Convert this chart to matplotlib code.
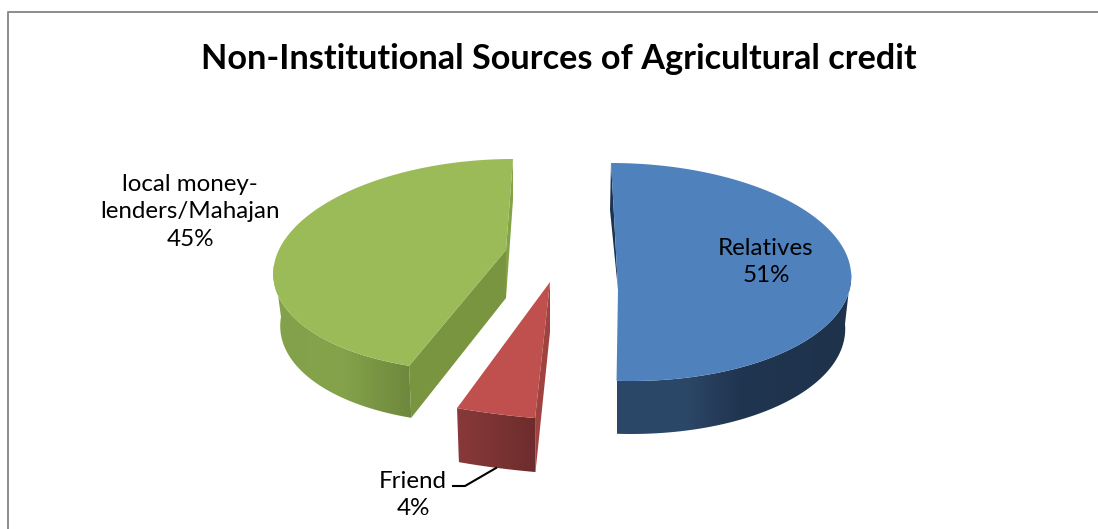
"""3-D style exploded pie of non-institutional agricultural credit sources."""
import matplotlib

matplotlib.use("Agg")
import matplotlib.pyplot as plt
from matplotlib.colors import to_rgb
from matplotlib.patches import Polygon
import numpy as np

TITLE = "Non-Institutional Sources of Agricultural credit"
categories = ["Relatives", "Friend", "local money-\nlenders/Mahajan"]
shares = [51, 4, 45]

plt.rcParams["font.family"] = ["Lato", "DejaVu Sans"]

# ellipse, extrusion and wall shading per slice, in pixels of the 1098x529 canvas
GEOM = [
    dict(ex=621, ey=272, rx=230, ry=109, skew=10, tilt=0, apex=(618, 290), d0=52, d1=1, inset=6,
         top="#4f81bd", shade=[(615, "#2b4767"), (685, "#2c4768"), (740, "#20354f"), (850, "#1e324c")]),
    dict(ex=555, ey=313.5, rx=317, ry=106, skew=0, tilt=20, apex=(550, 282), d0=54, d1=0, inset=6,
         top="#c0504d", shade=[(458, "#883939"), (536, "#6d2c2c")]),
    dict(ex=494.7, ey=265, rx=220.7, ry=106, skew=-18.3, tilt=0, apex=(506, 250), d0=52, d1=0, inset=7,
         top="#9bbb59", shade=[(276, "#82a14a"), (340, "#85a34b"), (413, "#6d873c")]),
]


def rim(g, theta):
    # theta runs clockwise from twelve o'clock, in degrees
    u = np.sin(np.radians(theta))
    v = -np.cos(np.radians(theta))
    return g["ex"] + g["rx"] * u + g["skew"] * v, g["ey"] + g["ry"] * v + g["tilt"] * u


def lower(g, theta):
    u = np.sin(np.radians(theta))
    v = -np.cos(np.radians(theta))
    x, y = rim(g, theta)
    return x - g["inset"] * u, y + g["d0"] + g["d1"] * v


def draw_side(ax, g, t0, t1):
    # curved outer wall: a horizontal gradient clipped to the wall outline
    ts = np.linspace(t0, t1, 200)
    top_pts = np.column_stack(rim(g, ts))
    low_pts = np.column_stack(lower(g, ts))
    outline = np.vstack([top_pts, low_pts[::-1]])
    x0, x1 = outline[:, 0].min(), outline[:, 0].max()
    y0, y1 = outline[:, 1].min(), outline[:, 1].max()
    xs = np.linspace(x0, x1, 256)
    stops = [s[0] for s in g["shade"]]
    cols = np.array([to_rgb(s[1]) for s in g["shade"]])
    grad = np.stack([np.interp(xs, stops, cols[:, i]) for i in range(3)], axis=-1)[np.newaxis, :, :]
    im = ax.imshow(grad, extent=(x0, x1, y1, y0), aspect="auto", zorder=1, interpolation="bilinear")
    im.set_clip_path(Polygon(outline, transform=ax.transData))


def main():
    fig = plt.figure(figsize=(10.98, 5.29), dpi=100)
    ax = fig.add_axes([0, 0, 1, 1])
    ax.axis("off")

    # chart frame, open on the right and bottom
    ax.plot([8, 8, 1098], [529, 12, 12], color="#8c8c8c", lw=1.4)
    ax.text(559, 59, TITLE, ha="center", va="center", fontsize=24.7, fontweight="bold", color="black")

    edges = np.cumsum([0] + shares) * 3.6
    blue, red, green = GEOM

    # green slice
    t0, t1 = edges[2], edges[3]
    apex = green["apex"]
    back = rim(green, t1)
    ax.add_patch(Polygon([back, (back[0], back[1] + 41), (apex[0], apex[1] + 48), apex], fc="#84a345", ec="none"))
    ax.add_patch(Polygon([apex, (apex[0], apex[1] + 48), lower(green, t0), rim(green, t0)], fc="#7a9540", ec="none"))
    draw_side(ax, green, t0, 270)
    ts = np.linspace(t0, t1, 200)
    ax.add_patch(Polygon(list(zip(*rim(green, ts))) + [apex], fc=green["top"], ec="none"))

    # red slice
    t0, t1 = edges[1], edges[2]
    apex = red["apex"]
    ax.add_patch(Polygon([apex, (apex[0], apex[1] + 50), lower(red, t0), rim(red, t0)], fc="#a04340", ec="none"))
    draw_side(ax, red, t0, t1)
    ts = np.linspace(t0, t1, 40)
    ax.add_patch(Polygon(list(zip(*rim(red, ts))) + [apex], fc=red["top"], ec="none"))

    # blue slice, its back edge bends slightly around the inner wall
    t0, t1 = edges[0], edges[1]
    apex = blue["apex"]
    back = rim(blue, t0)
    bend = (back[0] + 2, back[1] + 34)
    ax.add_patch(Polygon([back, (back[0] - 1, back[1] + 47), apex, bend], fc="#1c3350", ec="none"))
    draw_side(ax, blue, 90, t1)
    ts = np.linspace(t0, t1, 300)
    ax.add_patch(Polygon(list(zip(*rim(blue, ts))) + [apex, bend], fc=blue["top"], ec="none"))

    # leader line for the small slice
    ax.plot([453, 465, 496], [486, 486, 468], color="black", lw=1.5)

    size = 17.4
    spacing = 1.41
    ax.text(766, 262, f"{categories[0]}\n{shares[0]}%", ha="center", va="center", fontsize=size, linespacing=spacing)
    ax.text(413, 495, f"{categories[1]}\n{shares[1]}%", ha="center", va="center", fontsize=size, linespacing=spacing)
    ax.text(190, 212, f"{categories[2]}\n{shares[2]}%", ha="center", va="center", fontsize=size, linespacing=spacing)

    ax.set_xlim(0, 1098)
    ax.set_ylim(529, 0)
    plt.savefig("out.png", facecolor="white")
    plt.close()


if __name__ == "__main__":
    main()
